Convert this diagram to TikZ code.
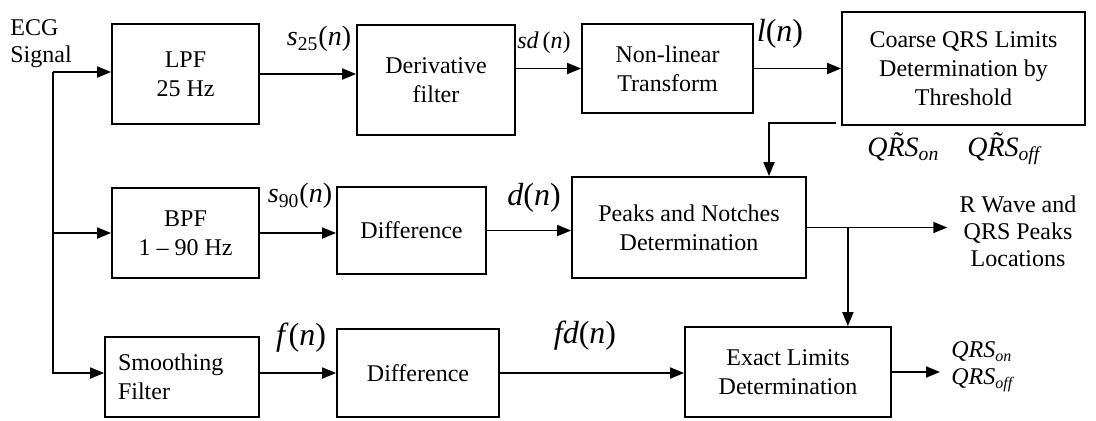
\documentclass[tikz,border=0pt]{standalone}
\usepackage{fontspec}
\setmainfont{Liberation Serif}
\usetikzlibrary{arrows.meta, positioning, calc}

\newcommand{\sg}[1]{\textit{#1}}

\begin{document}
\begin{tikzpicture}[
        x=0.5pt, y=-0.5pt,
        blk/.style={rectangle, draw=black, line width=0.9pt, align=center, inner sep=2pt, font=\fontsize{12}{14.5}\selectfont},
        sig/.style={inner sep=0pt, font=\fontsize{12}{14}\selectfont},
        midsig/.style={inner sep=0pt, font=\fontsize{14}{16}\selectfont},
        bigsig/.style={inner sep=0pt, font=\fontsize{16}{18}\selectfont},
        txt/.style={align=center, inner sep=0pt, font=\fontsize{12}{13.5}\selectfont},
        arr/.style={-{Triangle[length=7pt, width=5.5pt]}, line width=0.9pt}
      ]
        \useasboundingbox (0,0) rectangle (1096,420);

        % blocks
        \node[blk, minimum width=73.5pt, minimum height=50pt] (lpf) at (185.5,74) {LPF\\25 Hz};
        \node[blk, minimum width=79pt, minimum height=55pt] (deriv) at (436,80) {Derivative\\filter};
        \node[blk, minimum width=85.5pt, minimum height=44.5pt] (nonlin) at (667.5,68.5) {Non-linear\\Transform};
        \node[blk, minimum width=121.5pt, minimum height=56.5pt] (coarse) at (963.5,68.5) {Coarse QRS Limits\\Determination by\\Threshold};
        \node[blk, minimum width=73.5pt, minimum height=45pt] (bpf) at (185.5,233) {BPF\\1 -- 90 Hz};
        \node[blk, minimum width=74.5pt, minimum height=43.5pt] (diff1) at (411.5,230.5) {Difference};
        \node[blk, minimum width=117pt, minimum height=50.5pt] (peaks) at (689,227.5) {Peaks and Notches\\Determination};
        \node[blk, text width=64pt, inner xsep=6.5pt, minimum height=40pt, align=left] (smooth) at (182,377) {Smoothing\\Filter};
        \node[blk, minimum width=81pt, minimum height=44pt] (diff2) at (418,373) {Difference};
        \node[blk, minimum width=103pt, minimum height=45pt] (exact) at (788,372) {Exact Limits\\Determination};

        % texts
        \node[txt, align=left, anchor=south west] (ecg) at (10,68) {ECG\\Signal};
        \node[txt] (rwave) at (1018,231) {R Wave and\\QRS Peaks\\Locations};
        \node[txt, align=left, anchor=west] (qrsout) at (951,367) {\sg{QRS}\textsubscript{\sg{on}}\\\sg{QRS}\textsubscript{\sg{off}}};

        % signal labels
        \node[midsig] (s25) at (319,39) {\sg{s}\textsubscript{25}(\sg{n})};
        \node[sig] (sd) at (544,43) {\sg{sd}\,(\sg{n})};
        \node[bigsig] (ln) at (780,34) {\sg{l}(\sg{n})};
        \node[midsig] (qrst) at (955,149) {\sg{Q\~{R}S}\textsubscript{\sg{on}}\quad\sg{Q\~{R}S}\textsubscript{\sg{off}}};
        \node[midsig] (s90) at (300,196) {\sg{s}\textsubscript{90}(\sg{n})};
        \node[bigsig] (dn) at (534,198) {\sg{d}(\sg{n})};
        \node[bigsig] (fn) at (301,338) {\sg{f}(\sg{n})};
        \node[bigsig] (fdn) at (585,336) {\sg{fd}(\sg{n})};

        \coordinate (split) at (53,72);
        \coordinate (fb) at ([shift={(-5,-3)}]coarse.south west);
        \coordinate (br) at ([xshift=20.5pt]peaks.east);

        % connectors
        \draw[arr] (split) -- (split -| lpf.west);
        \draw[arr] (lpf) -- (lpf -| deriv.west);
        \draw[arr] (deriv.east |- nonlin) -- (nonlin);
        \draw[arr] (nonlin) -- (coarse);
        \draw[arr] (fb) -| ([xshift=40pt]peaks.north);
        \draw[arr] (split) |- (bpf);
        \draw[arr] (bpf) -- (bpf -| diff1.west);
        \draw[arr] (diff1) -- (diff1 -| peaks.west);
        \draw[arr, shorten >=6pt] (peaks) -- (peaks -| rwave.west);
        \draw[arr] (br) -- (br |- exact.north);
        \draw[arr] (split) |- (smooth.west |- diff2);
        \draw[arr] (smooth.east |- diff2) -- (diff2);
        \draw[arr] (diff2) -- (diff2 -| exact.west);
        \draw[arr, shorten >=5.5pt] (exact) -- (exact -| qrsout.west);
      \end{tikzpicture}
\end{document}
